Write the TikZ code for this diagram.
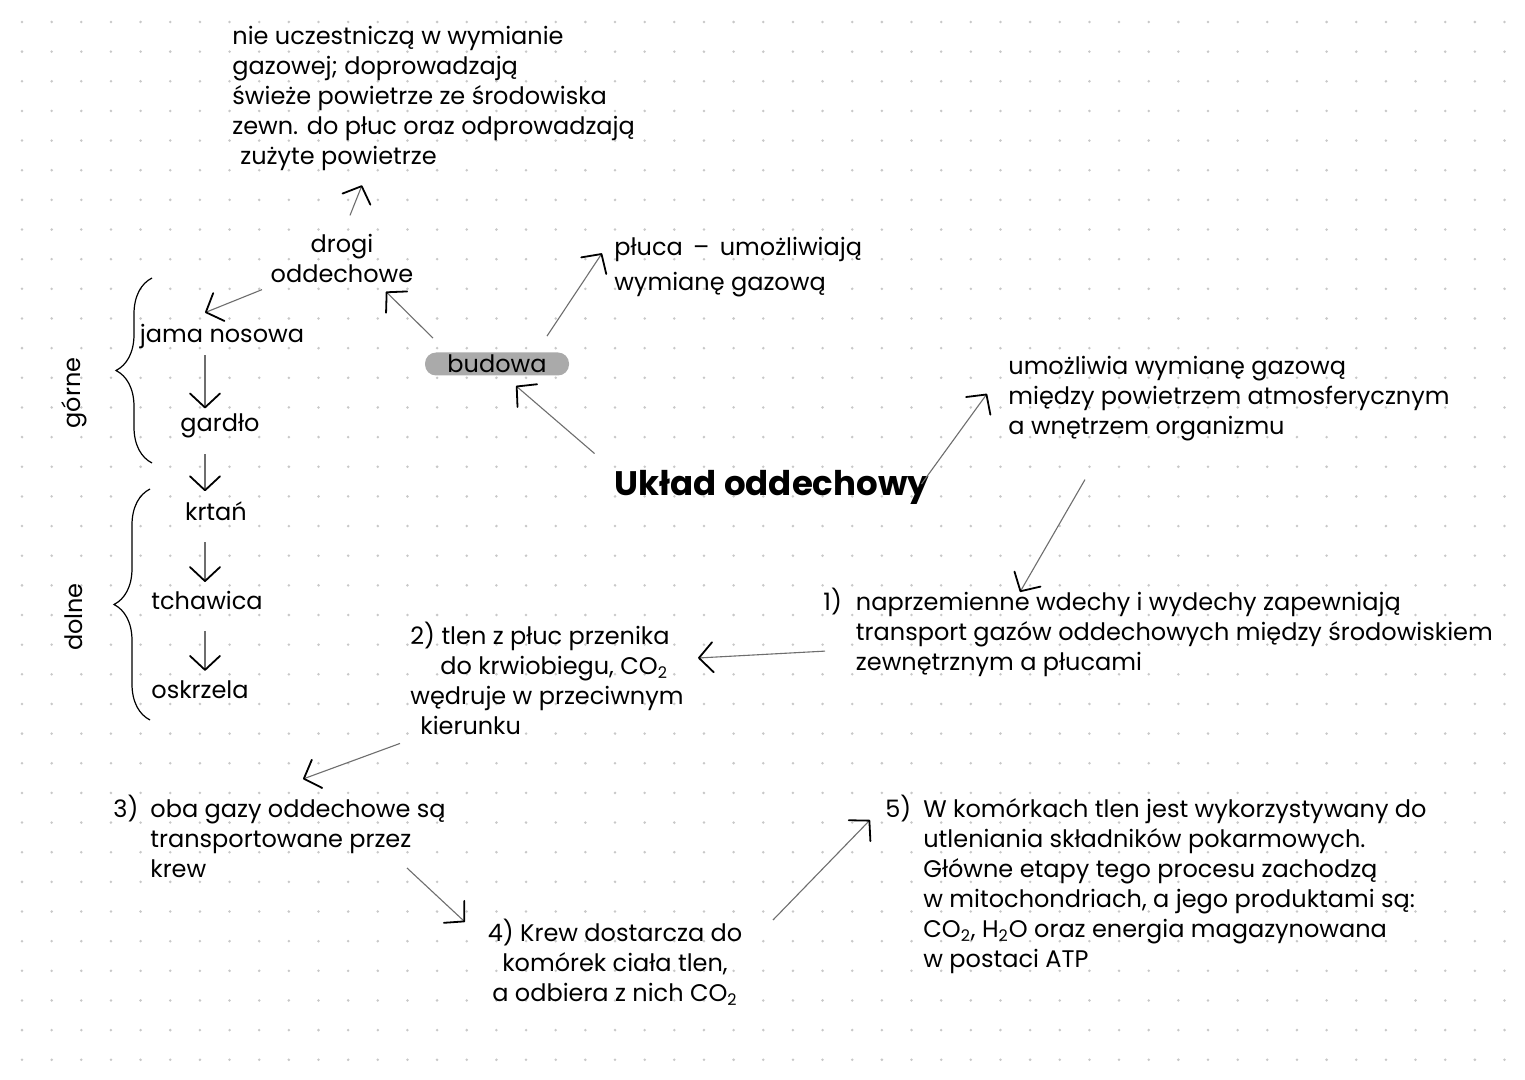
\documentclass[tikz,border=0pt]{standalone}
\usepackage{fontspec}
\setmainfont{Poppins}
\usepackage{tikz}
\usetikzlibrary{arrows.meta,positioning,decorations.pathreplacing}
\definecolor{dotgrey}{RGB}{200,200,200}
\definecolor{pillgrey}{RGB}{170,170,170}
\definecolor{shaftgrey}{RGB}{110,110,110}
\newcommand{\notesize}{\fontsize{12}{15}\selectfont}
\tikzset{
  note/.style={inner sep=0pt, align=left, font=\notesize},
  chainitem/.style={inner sep=0pt, text height=8pt, text depth=3pt, font=\notesize},
  sidelabel/.style={inner sep=0pt, rotate=90, font=\notesize},
  bracket/.style={decorate, decoration={brace, amplitude=18pt}, line width=0.6pt},
}

\begin{document}
\begin{tikzpicture}[x=0.5pt, y=-0.5pt,
  arr/.style={-{Straight Barb[length=7pt, width=15pt, line width=0.9pt, round, color=black]},
              shaftgrey, line width=0.55pt},
  pill/.style={rectangle, rounded corners=5.5pt, fill=pillgrey, minimum width=72pt,
               minimum height=11.5pt, inner sep=0pt, font=\notesize},
  title/.style={inner sep=0pt, font=\fontsize{17}{20}\selectfont\bfseries},
  node distance=33pt
]
  \fill[white] (0,0) rectangle (1525,1080);
  \foreach \i in {0,...,50}
    \foreach \j in {0,...,35}
      \fill[dotgrey] (22+29.65*\i, 22+29.65*\j) circle (0.7pt);

  \node[title] (uklad) at (772,487) {Układ oddechowy};
  \node[pill] (budowa) at (497,364) {budowa};
  \node[note, align=center] (drogi) at (342,258) {drogi\\oddechowe};
  \node[note, anchor=north west] (drogiOpis) at (232,26) {nie uczestniczą w wymianie\\
    gazowej; doprowadzają\\ świeże powietrze ze środowiska\\
    zewn. do płuc oraz odprowadzają\\ \hspace*{4pt}zużyte powietrze};
  \node[note, anchor=north west] (pluca) at (614,237) {płuca \,–\, umożliwiają\\[2.5pt] wymianę gazową};
  \node[note, anchor=north west] (funkcja) at (1008,356) {umożliwia wymianę gazową\\
    między powietrzem atmosferycznym\\ a wnętrzem organizmu};

  \node[chainitem] (jama) at (222,338) {jama nosowa};
  \node[chainitem, below=of jama, xshift=-1pt] (gardlo) {gardło};
  \node[chainitem, below=of gardlo, xshift=-2pt] (krtan) {krtań};
  \node[chainitem, below=of krtan, xshift=-4.5pt] (tchawica) {tchawica};
  \node[chainitem, below=of tchawica, xshift=-3.5pt] (oskrzela) {oskrzela};
  \node[sidelabel] (gorne) at (74,393) {górne};
  \node[sidelabel] (dolne) at (74,617) {dolne};
  \draw[bracket] (152,463) -- (152,278);
  \draw[bracket] (150,720) -- (150,489);

  \node[note, anchor=north west] (etap1) at (823,588) {\begin{tabular}{@{}l@{\hspace{7pt}}l@{}}
    1) & naprzemienne wdechy i wydechy zapewniają\\
       & transport gazów oddechowych między środowiskiem\\
       & zewnętrznym a płucami\end{tabular}};
  \node[note, anchor=north west] (etap2) at (410,622) {2) tlen z płuc przenika\\
    \hspace*{15pt}do krwiobiegu, CO\textsubscript{2}\\ wędruje w przeciwnym\\ \hspace*{5pt}kierunku};
  \node[note, anchor=north west] (etap3) at (113,795) {\begin{tabular}{@{}l@{\hspace{6pt}}l@{}}
    3) & oba gazy oddechowe są\\
       & transportowane przez\\
       & krew\end{tabular}};
  \node[note, align=center, anchor=north] (etap4) at (615,919) {4) Krew dostarcza do\\
    komórek ciała tlen,\\ a odbiera z nich CO\textsubscript{2}};
  \node[note, anchor=north west] (etap5) at (885,795) {\begin{tabular}{@{}l@{\hspace{6pt}}l@{}}
    5) & W komórkach tlen jest wykorzystywany do\\
       & utleniania składników pokarmowych.\\
       & Główne etapy tego procesu zachodzą\\
       & w mitochondriach, a jego produktami są:\\
       & CO\textsubscript{2}, H\textsubscript{2}O oraz energia magazynowana\\
       & w postaci ATP\end{tabular}};

  \foreach \a/\b/\sa/\sb/\ga/\gb in {jama/gardlo/-17/-15/6/-7, gardlo/krtan/-15/-11/16/-13,
      krtan/tchawica/-11/-2/15/-11, tchawica/oskrzela/-2/5/15/-11}
    \draw[arr] ([shift={(\sa,\ga)}]\a.south) -- ([shift={(\sb,\gb)}]\b.north);

  \draw[arr] ([shift={(8,-18)}]drogi.north) -- ([shift={(130,14)}]drogiOpis.south west);
  \draw[arr] ([shift={(-80,7)}]drogi.south) -- ([shift={(-17,-14)}]jama.north);
  \draw[arr] ([shift={(-64,-14)}]budowa.north) -- ([shift={(44,9)}]drogi.south);
  \draw[arr] ([shift={(50,-16)}]budowa.north) -- ([shift={(-12,-14)}]pluca.west);
  \draw[arr] ([shift={(-20,-16)}]uklad.north west) -- ([shift={(19,10)}]budowa.south);
  \draw[arr] ([shift={(-8,-3)}]uklad.east) -- ([shift={(-21,-5)}]funkcja.west);
  \draw[arr] ([shift={(77,38)}]funkcja.south west) -- ([shift={(197,4)}]etap1.north west);
  \draw[arr] ([shift={(2,17)}]etap1.west) -- ([shift={(288,36)}]etap2.north west);
  \draw[arr] ([shift={(-10,8)}]etap2.south west) -- ([shift={(190,-16)}]etap3.north west);
  \draw[arr] ([shift={(294,73)}]etap3.north west) -- ([shift={(-150,3)}]etap4.north);
  \draw[arr] ([shift={(158,1)}]etap4.north) -- ([shift={(-15,25)}]etap5.north west);
\end{tikzpicture}
\end{document}
